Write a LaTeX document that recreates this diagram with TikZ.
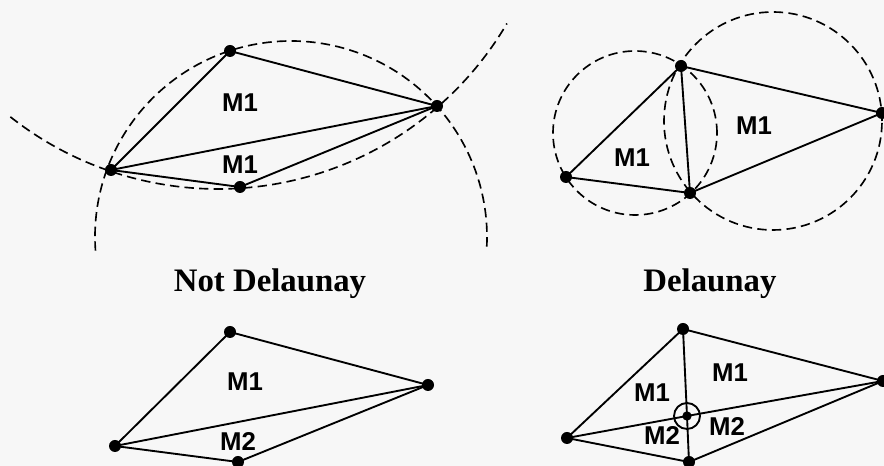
\documentclass[tikz,border=0pt]{standalone}
\usepackage{fontspec}
\setmainfont{Liberation Serif}
\setsansfont{Liberation Sans}
\definecolor{paper}{rgb}{0.97,0.97,0.97}
\begin{document}
\begin{tikzpicture}[line width=1.6pt,
    vtx/.style={circle, fill=black, inner sep=0pt, minimum size=0.36cm},
    mlab/.style={font=\sffamily\bfseries\fontsize{22}{22}\selectfont},
    ttl/.style={font=\bfseries\fontsize{28}{28}\selectfont, anchor=base},
    dcirc/.style={line width=1.4pt, dash pattern=on 8pt off 4.5pt}]
        \fill[paper] (0,0) rectangle (26.52,13.98);
        \useasboundingbox (0,0) rectangle (26.52,13.98);

        % not Delaunay
        \node[vtx] (na) at (6.90,12.45) {};
        \node[vtx] (nb) at (13.11,10.80) {};
        \node[vtx] (nc) at (3.33,8.88) {};
        \node[vtx] (nd) at (7.20,8.37) {};
        \draw (na.center) -- (nb.center);
        \draw (na.center) -- (nc.center);
        \draw (nc.center) -- (nb.center);
        \draw (nc.center) -- (nd.center);
        \draw (nd.center) -- (nb.center);
        \node[mlab] (nm1) at (7.20,10.89) {M1};
        \node[mlab] (nm2) at (7.20,9.03) {M1};
        \draw[dcirc] (8.73,6.87) ++(184:5.88)
        arc[start angle=184, end angle=-4, radius=5.88];
        \draw[dcirc] (6.54,18.36) ++(-128.3:10.05)
        arc[start angle=-128.3, end angle=-30.4, radius=10.05];
        \node[ttl] (tnot) at (8.10,5.22) {Not Delaunay};

        % Delaunay
        \node[vtx] (dp) at (20.43,12.00) {};
        \node[vtx] (dq) at (16.98,8.67) {};
        \node[vtx] (dr) at (20.70,8.19) {};
        \node[vtx] (ds) at (26.46,10.59) {};
        \draw (dp.center) -- (dq.center);
        \draw (dq.center) -- (dr.center);
        \draw (dp.center) -- (dr.center);
        \draw (dp.center) -- (ds.center);
        \draw (dr.center) -- (ds.center);
        \node[mlab] (dm1) at (18.96,9.24) {M1};
        \node[mlab] (dm2) at (22.62,10.20) {M1};
        \draw[dcirc] (19.05,9.99) circle[radius=2.46];
        \draw[dcirc] (23.19,10.35) circle[radius=3.27];
        \node[ttl] (tdel) at (21.30,5.22) {Delaunay};

        % two materials
        \node[vtx] (ma) at (6.90,4.02) {};
        \node[vtx] (mb) at (12.84,2.43) {};
        \node[vtx] (mc) at (3.45,0.60) {};
        \node[vtx] (md) at (7.14,0.12) {};
        \draw (ma.center) -- (mb.center);
        \draw (ma.center) -- (mc.center);
        \draw (mc.center) -- (mb.center);
        \draw (mc.center) -- (md.center);
        \draw (md.center) -- (mb.center);
        \node[mlab] (mm1) at (7.35,2.52) {M1};
        \node[mlab] (mm2) at (7.14,0.72) {M2};

        % inserted point
        \node[vtx] (ka) at (20.49,4.11) {};
        \node[vtx] (kc) at (17.01,0.84) {};
        \node[vtx] (kd) at (20.67,0.12) {};
        \node[vtx] (kb) at (26.49,2.55) {};
        \node[vtx, minimum size=0.28cm] (kx) at (20.61,1.50) {};
        \draw (kx) circle[radius=0.39];
        \draw (ka.center) -- (kc.center);
        \draw (kc.center) -- (kd.center);
        \draw (kd.center) -- (kb.center);
        \draw (kb.center) -- (ka.center);
        \draw (ka.center) -- (kx.center) -- (kd.center);
        \draw (kc.center) -- (kx.center) -- (kb.center);
        \node[mlab] (km1) at (19.56,2.19) {M1};
        \node[mlab] (km2) at (21.90,2.79) {M1};
        \node[mlab] (km3) at (19.86,0.90) {M2};
        \node[mlab] (km4) at (21.81,1.17) {M2};
    \end{tikzpicture}
\end{document}
